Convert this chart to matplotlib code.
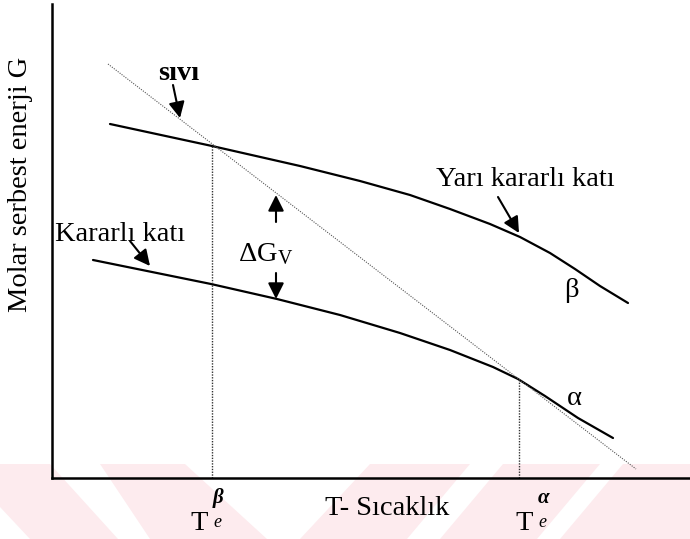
import matplotlib
matplotlib.use('Agg')
import matplotlib.pyplot as plt
from matplotlib.patches import Polygon

plt.rcParams['font.family'] = 'Liberation Serif'
plt.rcParams['mathtext.fontset'] = 'custom'
plt.rcParams['mathtext.rm'] = 'Liberation Serif'
plt.rcParams['mathtext.it'] = 'Liberation Serif:italic'
plt.rcParams['mathtext.bf'] = 'Liberation Serif:bold'

# free energy curves, arbitrary units (T along x, G along y)
t_beta = [58, 160, 248, 308, 358, 398, 438, 468, 498, 523, 548, 576]
g_beta = [354, 332, 312, 297, 283, 269, 254, 241, 225, 209, 192, 175]
t_alpha = [41, 159, 225, 288, 348, 398, 441, 466, 493, 526, 561]
g_alpha = [218, 194, 179, 163, 145, 128, 111, 99, 82, 60, 40]
t_liq = [56, 584]
g_liq = [414, 9]

# equilibrium temperatures and where the liquid line meets each solid
te_beta, g_te_beta = 160, 332
te_alpha, g_te_alpha = 467, 98

W, H = 690, 539
fig = plt.figure(figsize=(W / 100, H / 100), dpi=100)

# pink stripes along the bottom edge
stripes = [
    [(0, 464), (50, 464), (118, 539), (30, 539), (0, 507)],
    [(100, 464), (185, 464), (267, 539), (150, 539)],
    [(370, 464), (470, 464), (407, 539), (300, 539)],
    [(503, 464), (600, 464), (537, 539), (440, 539)],
    [(623, 464), (690, 464), (690, 539), (560, 539)],
]
for pts in stripes:
    fig.patches.append(Polygon([(x / W, 1 - y / H) for x, y in pts], closed=True,
                               transform=fig.transFigure, facecolor='#fdebee',
                               edgecolor='none', zorder=-1))

ax = fig.add_axes([52 / W, (H - 478) / H, (W - 52) / W, (478 - 4) / H])
ax.patch.set_alpha(0)
ax.set_xlim(0, 638)
ax.set_ylim(0, 474)
ax.set_xticks([])
ax.set_yticks([])
for s in ['top', 'right']:
    ax.spines[s].set_visible(False)
for s in ['left', 'bottom']:
    ax.spines[s].set_linewidth(1.8)

ax.plot(t_beta, g_beta, color='k', lw=1.6, solid_capstyle='round', solid_joinstyle='round')
ax.plot(t_alpha, g_alpha, color='k', lw=1.6, solid_capstyle='round', solid_joinstyle='round')
ax.plot(t_liq, g_liq, color='#555555', lw=0.8, linestyle=(0, (1, 1.2)))
ax.plot([te_beta, te_beta], [0, g_te_beta], color='#333333', lw=1, linestyle=(0, (1, 1)))
ax.plot([te_alpha, te_alpha], [0, g_te_alpha], color='#333333', lw=1, linestyle=(0, (1, 1)))

fs = 20.5
arr = dict(arrowstyle='-|>', color='k', lw=1.5, mutation_scale=24, shrinkA=0, shrinkB=0)

ax.text(127, 398, 'sıvı', fontsize=fs, fontweight='bold', ha='center', va='baseline')
ax.annotate('', xy=(128, 360), xytext=(121, 393), arrowprops=arr)

ax.text(384, 292, 'Yarı kararlı katı', fontsize=fs, ha='left', va='baseline')
ax.annotate('', xy=(467, 245), xytext=(446, 281), arrowprops=arr)

ax.text(3, 237, 'Kararlı katı', fontsize=fs, ha='left', va='baseline')
ax.annotate('', xy=(98, 212), xytext=(78, 237), arrowprops=arr)

ax.text(186, 217, r'ΔG$_{\rm V}$', fontsize=fs, ha='left', va='baseline')
ax.annotate('', xy=(224, 283), xytext=(224, 256), arrowprops=arr)
ax.annotate('', xy=(224, 179), xytext=(224, 205), arrowprops=arr)

ax.text(519, 181, 'β', fontsize=fs, ha='center', va='baseline')
ax.text(522, 73, 'α', fontsize=fs, ha='center', va='baseline')

# axis labels
ax.text(335, -37, 'T- Sıcaklık', fontsize=fs, ha='center', va='baseline', clip_on=False)
ax.text(-31, 294, 'Molar serbest enerji G', fontsize=fs, rotation=90,
        ha='center', va='center', clip_on=False)

# equilibrium temperature labels below the axis: (T, phase, T offset, e offset)
for te, sup, dt, de in [(te_beta, 'β', -13, 1), (te_alpha, 'α', 5, 19)]:
    ax.text(te + dt, -52, 'T', fontsize=fs, ha='center', va='baseline', clip_on=False)
    ax.text(te + de, -49, 'e', fontsize=13, style='italic', ha='left', va='baseline', clip_on=False)
    ax.text(te + de, -25, sup, fontsize=15, style='italic', fontweight='bold',
            ha='left', va='baseline', clip_on=False)

fig.savefig('out.png', dpi=100)
